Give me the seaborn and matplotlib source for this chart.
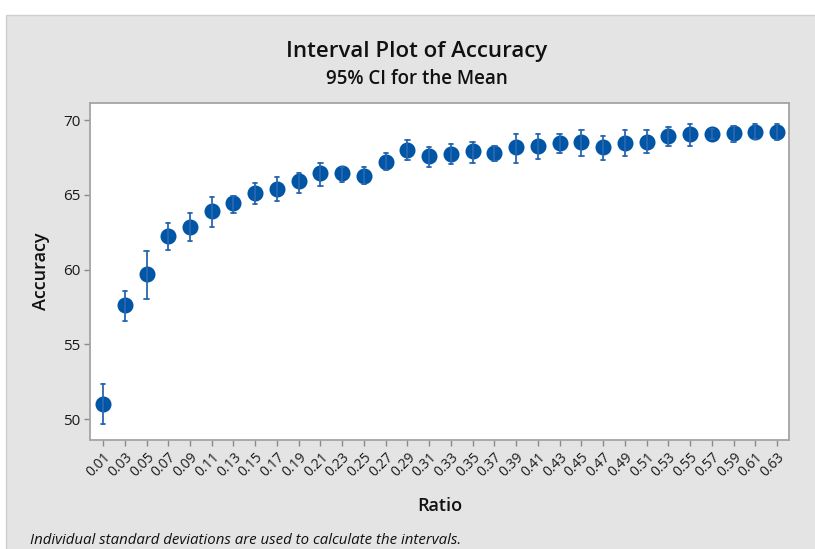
import matplotlib
matplotlib.use("Agg")
import matplotlib.pyplot as plt
import seaborn as sns
import pandas as pd
from matplotlib.patches import Rectangle

ratios = ["0.01","0.03","0.05","0.07","0.09","0.11","0.13","0.15","0.17","0.19",
          "0.21","0.23","0.25","0.27","0.29","0.31","0.33","0.35","0.37","0.39",
          "0.41","0.43","0.45","0.47","0.49","0.51","0.53","0.55","0.57","0.59",
          "0.61","0.63"]
means = [51.03, 57.62, 59.70, 62.27, 62.86, 63.91, 64.47, 65.12, 65.41, 65.92,
         66.48, 66.48, 66.28, 67.22, 67.98, 67.60, 67.72, 67.92, 67.81, 68.19,
         68.28, 68.48, 68.57, 68.19, 68.48, 68.57, 68.97, 69.06, 69.06, 69.15,
         69.24, 69.24]
lower = [49.68, 56.56, 58.06, 61.33, 61.89, 62.83, 63.80, 64.36, 64.56, 65.14,
         65.61, 65.88, 65.70, 66.64, 67.31, 66.84, 67.04, 67.11, 67.25, 67.13,
         67.40, 67.81, 67.60, 67.31, 67.60, 67.81, 68.28, 68.28, 68.75, 68.57,
         68.75, 68.66]
upper = [52.37, 58.56, 61.22, 63.12, 63.80, 64.85, 64.94, 65.81, 66.19, 66.48,
         67.16, 66.90, 66.85, 67.81, 68.68, 68.19, 68.41, 68.54, 68.28, 69.06,
         69.06, 69.06, 69.35, 68.97, 69.35, 69.35, 69.53, 69.73, 69.40, 69.62,
         69.73, 69.72]

rows = []
for r, lo, m, hi in zip(ratios, lower, means, upper):
    for v in (lo, m, hi):
        rows.append({"Ratio": r, "Accuracy": v})
df = pd.DataFrame(rows)

sns.set_style("white")
plt.rcParams["font.family"] = ["Open Sans", "DejaVu Sans"]

fig = plt.figure(figsize=(8.15, 5.49), dpi=100)
fig.patch.set_facecolor("white")
panel = Rectangle((6/815, -0.01), 1, 1 - 15/549 + 0.01, transform=fig.transFigure,
                  facecolor="#e4e4e4", edgecolor="#cfcfcf", linewidth=1, zorder=-10)
fig.add_artist(panel)
ax = fig.add_axes([90/815, 1 - 440/549, (789 - 90)/815, (440 - 103)/549])
ax.set_zorder(1)
ax.set_facecolor("white")

blue = "#0055a5"
sns.pointplot(data=df, x="Ratio", y="Accuracy", order=ratios, estimator="median",
              errorbar=("pi", 100), linestyle="none", marker="o", color=blue,
              markersize=9.5, capsize=0.2,
              err_kws={"linewidth": 1.3, "color": "#2a66b2"}, ax=ax)

ax.set_xlim(-0.6, 31.55)
ax.set_ylim(48.6, 71.15)
ax.set_yticks([50, 55, 60, 65, 70])
ax.set_xticks(range(len(ratios)))
ax.set_xticklabels(ratios, rotation=45, ha="right", rotation_mode="anchor", fontsize=10,
                   fontweight="medium", color="#1a1a1a")
for lab in ax.get_yticklabels():
    lab.set_fontsize(11)
    lab.set_fontweight("medium")
    lab.set_color("#1a1a1a")
ax.tick_params(axis="both", which="major", length=4, width=1, color="#8a8a8a", direction="out",
               bottom=True, left=True, pad=3)
for s in ax.spines.values():
    s.set_color("#a4a4a4")
    s.set_linewidth(1.3)

ax.set_xlabel("Ratio", fontsize=13, fontweight="semibold", labelpad=12, color="#111111")
ax.set_ylabel("Accuracy", fontsize=13, fontweight="semibold", labelpad=9, color="#111111")

fig.text(417/815, 1 - 52/549, "Interval Plot of Accuracy", ha="center", va="center",
         fontsize=16, fontweight="semibold", color="#111111")
fig.text(417/815, 1 - 79/549, "95% CI for the Mean", ha="center", va="center",
         fontsize=13.5, fontweight="semibold", color="#111111")
fig.text(30/815, 1 - 540/549, "Individual standard deviations are used to calculate the intervals.",
         ha="left", va="center", fontsize=10.8, style="italic", color="#111111")

fig.savefig("out.png", dpi=100)
